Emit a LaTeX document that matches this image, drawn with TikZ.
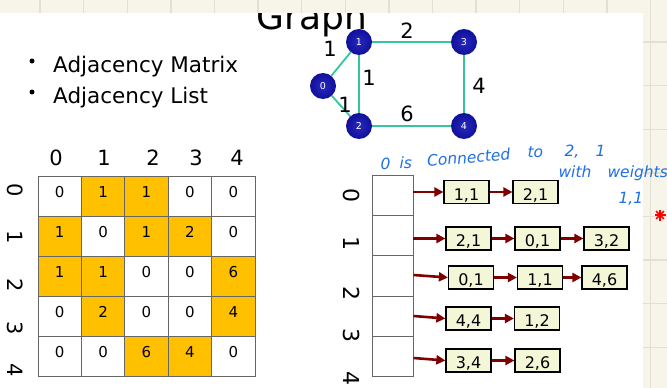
\documentclass[tikz,border=0pt]{standalone}
\usepackage{fontspec}
\setmainfont{DejaVu Sans}
\usetikzlibrary{arrows.meta}
\definecolor{cream}{HTML}{F7F5E9}
\definecolor{gridc}{HTML}{E3E0D3}
\definecolor{mxorange}{HTML}{FFC000}
\definecolor{edgeteal}{HTML}{33C79E}
\definecolor{nodeblue}{HTML}{10109A}
\definecolor{nodeinner}{HTML}{2828C0}
\definecolor{arrred}{HTML}{800000}
\definecolor{boxfill}{HTML}{F4F6D8}
\definecolor{inkblue}{HTML}{1F6FE5}
\definecolor{cellline}{HTML}{666666}
\begin{document}
\begin{tikzpicture}[x=1pt,y=-1pt,
  gnode/.style={circle, minimum size=26pt, inner sep=0pt, inner color=nodeinner, outer color=nodeblue, text=white, font=\fontsize{9.5}{10}\selectfont},
  gedge/.style={edgeteal, line width=1.8pt},
  elabel/.style={font=\fontsize{21}{24}\selectfont},
  mcell/.style={draw=cellline, line width=0.9pt, minimum width=43.4pt, minimum height=40pt, inner sep=0pt, font=\fontsize{15}{17}\selectfont, text height=11pt, text depth=8pt},
  hdr/.style={font=\fontsize{21}{24}\selectfont},
  lcell/.style={draw=cellline, line width=0.9pt, minimum width=41pt, minimum height=40.2pt, inner sep=0pt},
  lbox/.style={draw=black, fill=boxfill, line width=1.2pt, minimum width=45pt, minimum height=23pt, inner sep=0pt, font=\fontsize{16}{18}\selectfont, text height=16.8pt, text depth=0.6pt},
  arr/.style={arrred, line width=2.6pt, -{Triangle[length=9pt,width=9pt]}},
  ink/.style={inkblue, anchor=base west, font=\fontsize{15.5}{17}\selectfont\itshape}
]
\useasboundingbox (0,0) rectangle (667,388);
% background paper
\fill[cream] (0,0) rectangle (667,388);
\foreach \i in {0,...,14} \draw[gridc, line width=1.4pt] ({40+43.6*\i},0) -- ++(0,388);
\foreach \j in {0,...,8} \draw[gridc, line width=1.4pt] (0,{42+43.6*\j}) -- ++(667,0);
\fill[white] (0,13) rectangle (642.5,388);
\begin{scope}
\clip (0,13) rectangle (642.5,388);
\node[anchor=base, font=\fontsize{36}{40}\selectfont] (title) at (312,30) {Graph};
\end{scope}
% bullets
\node[circle, fill=black, inner sep=0pt, minimum size=5pt] (bul1) at (32,61) {};
\node[circle, fill=black, inner sep=0pt, minimum size=5pt] (bul2) at (32,92) {};
\node[anchor=base west, inner sep=0pt, font=\fontsize{21.5}{24}\selectfont] (txt1) at (53,72) {Adjacency Matrix};
\node[anchor=base west, inner sep=0pt, font=\fontsize{21.5}{24}\selectfont] (txt2) at (53,103) {Adjacency List};
% graph
\node[gnode] (g0) at (323,86) {0};
\node[gnode] (g1) at (359,42) {1};
\node[gnode] (g2) at (359,126) {2};
\node[gnode] (g3) at (464,42) {3};
\node[gnode] (g4) at (464,126) {4};
\draw[gedge] (g0) -- (g1);
\draw[gedge] (g0) -- (g2);
\draw[gedge] (g1) -- (g2);
\draw[gedge] (g1) -- (g3);
\draw[gedge] (g3) -- (g4);
\draw[gedge] (g2) -- (g4);
\node[elabel] (w01) at (330,49) {1};
\node[elabel] (w13) at (407,31) {2};
\node[elabel] (w12) at (369,78) {1};
\node[elabel] (w34) at (479,86) {4};
\node[elabel] (w02) at (345,105) {1};
\node[elabel] (w24) at (407,114) {6};
% matrix
\foreach \row [count=\r from 0] in {{0,1,1,0,0},{1,0,1,2,0},{1,1,0,0,6},{0,2,0,0,4},{0,0,6,4,0}} {
  \foreach \v [count=\c from 0] in \row {
    \ifnum\v=0 \def\cf{white}\else\def\cf{mxorange}\fi
    \node[mcell, fill=\cf] (m\r\c) at ({59.7+43.4*\c},{196+40*\r}) {\v};
  }
}
\foreach \x [count=\c from 0] in {56,104,153,196,237}
  \node[hdr] (ch\c) at (\x,158) {\c};
\foreach \y [count=\r from 0] in {190,237,285,328,370}
  \node[hdr, rotate=-90] (rh\r) at (15,\y) {\r};
% adjacency list
\foreach \r in {0,...,4}
  \node[lcell] (l\r) at (392.5,{195.5+40.2*\r}) {};
\foreach \y [count=\r from 0] in {195,243,293,335,378}
  \node[hdr, font=\fontsize{22}{24}\selectfont, rotate=-90] (lh\r) at (352,\y) {\r};
\node[lbox] (b00) at (466.5,192) {1,1};
\node[lbox] (b01) at (535.5,192) {2,1};
\node[lbox] (b10) at (468.5,238.5) {2,1};
\node[lbox] (b11) at (537.5,238.5) {0,1};
\node[lbox] (b12) at (606.5,238.5) {3,2};
\node[lbox] (b20) at (471,277.5) {0,1};
\node[lbox] (b21) at (540,277.5) {1,1};
\node[lbox] (b22) at (604.5,277.5) {4,6};
\node[lbox] (b30) at (468.5,318.5) {4,4};
\node[lbox] (b31) at (537,318.5) {1,2};
\node[lbox] (b40) at (468.5,360.5) {3,4};
\node[lbox] (b41) at (537.5,360.5) {2,6};
\draw[arr] (b00.west -| l0.east) -- (b00.west);
\draw[arr] (b00.east) -- (b01.west);
\draw[arr] (b10.west -| l1.east) -- (b10.west);
\draw[arr] (b10.east) -- (b11.west);
\draw[arr] (b11.east) -- (b12.west);
\draw[arr] ([yshift=2.5pt]b20.west -| l2.east) -- (b20.west);
\draw[arr] (b20.east) -- (b21.west);
\draw[arr] (b21.east) -- (b22.west);
\draw[arr] ([yshift=2.5pt]b30.west -| l3.east) -- (b30.west);
\draw[arr] (b30.east) -- (b31.west);
\draw[arr] ([yshift=2.5pt]b40.west -| l4.east) -- (b40.west);
\draw[arr] (b40.east) -- (b41.west);
% handwritten note
\node[ink] (n1) at (377,169) {0};
\node[ink] (n2) at (396,168) {is};
\node[ink, rotate=5] (n3) at (424,167) {Connected};
\node[ink] (n4) at (524,157) {to};
\node[ink] (n5) at (561,156) {2,};
\node[ink] (n6) at (592,156) {1};
\node[ink] (n7) at (555,177) {with};
\node[ink] (n8) at (604,177) {weights};
\node[ink] (n9) at (615,203) {1,1};
% red mark
\foreach \a in {0,45,90,135}
  \draw[red, line width=1.6pt] (660,215) ++(\a:5.5) -- ++(\a+180:11);
\end{tikzpicture}
\end{document}
